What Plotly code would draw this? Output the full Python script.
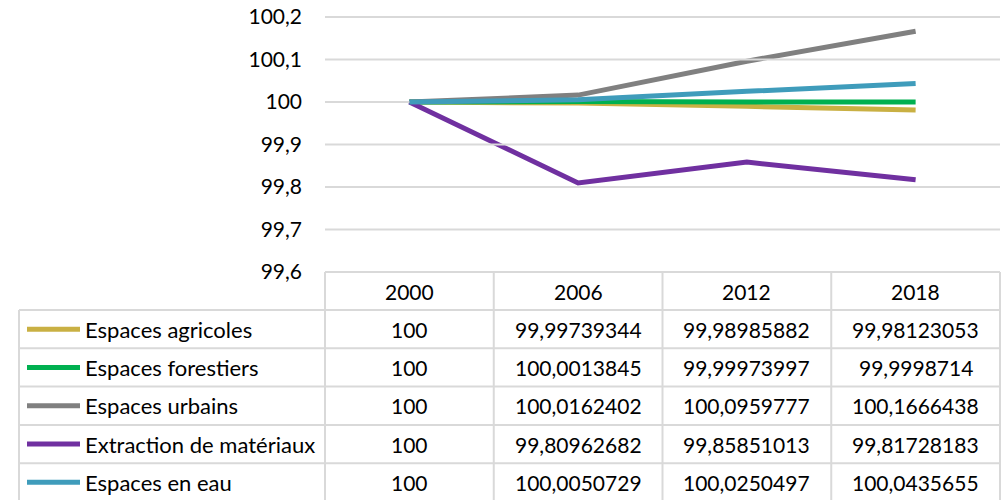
import plotly.graph_objects as go

# Indices d'occupation des sols (base 100 en 2000)
years = ["2000", "2006", "2012", "2018"]
series_names = [
    "Espaces agricoles",
    "Espaces forestiers",
    "Espaces urbains",
    "Extraction de matériaux",
    "Espaces en eau",
]
agricoles = [100, 99.99739344, 99.98985882, 99.98123053]
forestiers = [100, 100.0013845, 99.99973997, 99.9998714]
urbains = [100, 100.0162402, 100.0959777, 100.1666438]
extraction = [100, 99.80962682, 99.85851013, 99.81728183]
eau = [100, 100.0050729, 100.0250497, 100.0435655]
y_ticks = [99.6, 99.7, 99.8, 99.9, 100, 100.1, 100.2]

values = [agricoles, forestiers, urbains, extraction, eau]
colors = ["#C9B043", "#00B050", "#808080", "#7030A0", "#3F9CBB"]

W, H = 1002, 500
FONT = "Lato, Carlito, Calibri, sans-serif"
GRID = "#D9D9D9"
TXT = 21

# Plot area in pixels
px_left, px_right = 325, 1000
px_top, px_bottom = 17, 272
y_min, y_max = 99.6, 100.2


def fx(px):
    return px / W


def fy(py):
    return 1 - py / H


def fr(v):
    s = "{:.10g}".format(v)
    return s.replace(".", ",")


x_lo, x_hi = -0.5, len(years) - 0.5
col_w = (px_right - px_left) / len(years)

fig = go.Figure()
x_pos = list(range(len(years)))
for name, vals, col in zip(series_names, values, colors):
    fig.add_trace(go.Scatter(
        x=x_pos, y=vals, mode="lines", name=name,
        line=dict(color=col, width=5),
        showlegend=False, cliponaxis=False,
    ))

fig.update_layout(
    width=W, height=H,
    margin=dict(l=0, r=0, t=0, b=0, pad=0),
    paper_bgcolor="white", plot_bgcolor="white",
    font=dict(family=FONT, size=TXT, color="#000000"),
    xaxis=dict(
        domain=[fx(px_left), fx(px_right)],
        range=[x_lo, x_hi],
        showgrid=False, zeroline=False, showticklabels=False,
        showline=False, fixedrange=True, automargin=False,
    ),
    yaxis=dict(
        domain=[fy(px_bottom), fy(px_top)],
        range=[y_min, y_max],
        tickvals=y_ticks,
        ticktext=[fr(v) for v in y_ticks],
        showgrid=False,
        zeroline=False, showline=False,
        ticks="", ticklabelstandoff=22,
        tickfont=dict(family=FONT, size=TXT, color="#000000"),
        fixedrange=True, automargin=False,
    ),
)

line_style = dict(color=GRID, width=2)
shapes = []

# horizontal gridlines at each y tick; the base-100 line is hidden under
# the series from the first category onward, so it stops there
y_span = px_bottom - px_top
for t in y_ticks:
    py = px_bottom - (t - y_min) / (y_max - y_min) * y_span
    x_end = px_left + 0.5 * col_w if abs(t - 100) < 1e-9 else px_right
    shapes.append(dict(type="line", xref="paper", yref="paper",
                       x0=fx(px_left), x1=fx(x_end), y0=fy(py), y1=fy(py),
                       line=line_style))

# Data table below the plot
head_top, head_bot = 272, 310
row_h = 38.3
table_left = 19
n_rows = len(series_names)
table_bottom = head_bot + row_h * n_rows + 2

# header row top and vertical separators
shapes.append(dict(type="line", xref="paper", yref="paper",
                   x0=fx(px_left), x1=fx(px_right), y0=fy(head_top), y1=fy(head_top), line=line_style))
for i in range(len(years) + 1):
    xx = px_left + i * col_w
    shapes.append(dict(type="line", xref="paper", yref="paper",
                       x0=fx(xx), x1=fx(xx), y0=fy(head_top), y1=fy(table_bottom), line=line_style))
# left border of the legend column
shapes.append(dict(type="line", xref="paper", yref="paper",
                   x0=fx(table_left), x1=fx(table_left), y0=fy(head_bot), y1=fy(table_bottom), line=line_style))
# horizontal row separators
for r in range(n_rows):
    yy = head_bot + r * row_h
    shapes.append(dict(type="line", xref="paper", yref="paper",
                       x0=fx(table_left), x1=fx(px_right), y0=fy(yy), y1=fy(yy), line=line_style))

annotations = []
for i, yr in enumerate(years):
    cx = px_left + (i + 0.5) * col_w
    annotations.append(dict(x=fx(cx), y=fy((head_top + head_bot) / 2), xref="paper", yref="paper",
                            text=yr, showarrow=False, xanchor="center", yanchor="middle",
                            font=dict(family=FONT, size=TXT, color="#000000")))

for r, (name, vals, col) in enumerate(zip(series_names, values, colors)):
    cy = head_bot + (r + 0.5) * row_h
    # legend key
    shapes.append(dict(type="line", xref="paper", yref="paper",
                       x0=fx(27), x1=fx(80), y0=fy(cy), y1=fy(cy),
                       line=dict(color=col, width=5)))
    annotations.append(dict(x=fx(83), y=fy(cy), xref="paper", yref="paper",
                            text=name, showarrow=False, xanchor="left", yanchor="middle",
                            font=dict(family=FONT, size=22, color="#000000")))
    for i, v in enumerate(vals):
        cx = px_left + (i + 0.5) * col_w
        annotations.append(dict(x=fx(cx), y=fy(cy), xref="paper", yref="paper",
                                text=fr(v), showarrow=False, xanchor="center", yanchor="middle",
                                font=dict(family=FONT, size=TXT, color="#000000")))

fig.update_layout(shapes=shapes, annotations=annotations)
fig.write_html("out.html")
